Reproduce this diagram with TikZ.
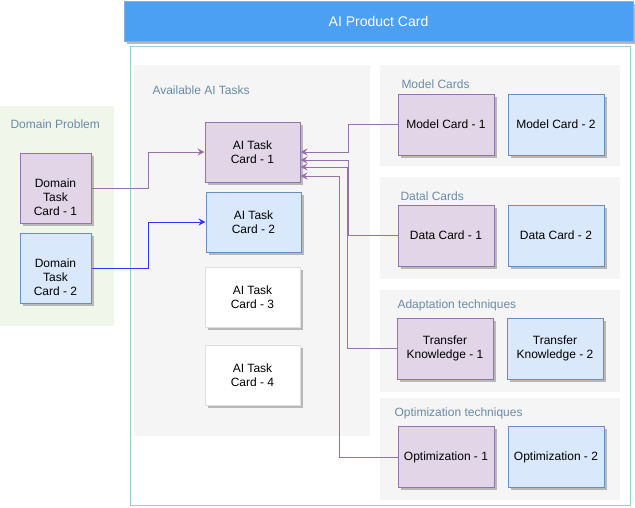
\documentclass[tikz,border=0pt]{standalone}
\usepackage{fontspec}
\setmainfont{Liberation Sans}
\usetikzlibrary{arrows.meta, positioning, shadows}

\definecolor{purplefill}{HTML}{E1D5E7}
\definecolor{purpleline}{HTML}{9673A6}
\definecolor{bluefill}{HTML}{DAE8FC}
\definecolor{blueline}{HTML}{6C8EBF}
\definecolor{titlefill}{HTML}{4CA0F3}
\definecolor{titleline}{HTML}{7EB0EC}
\definecolor{domainfill}{HTML}{F1F6EA}
\definecolor{groupfill}{HTML}{F5F5F5}
\definecolor{tealline}{HTML}{9ACFC6}
\definecolor{labeltext}{HTML}{6A8BA6}
\definecolor{linkblue}{HTML}{3333FF}

\begin{document}
\begin{tikzpicture}[
    x=1pt, y=-1pt,
    font=\fontsize{12}{14}\selectfont,
    line width=1pt,
    node distance=13pt,
    card/.style={draw, inner sep=0pt, align=center,
        minimum width=96pt, minimum height=61pt,
        drop shadow={shadow xshift=2.5pt, shadow yshift=-2.5pt,
            fill=black!28, opacity=1}},
    purplecard/.style={card, fill=purplefill, draw=purpleline},
    bluecard/.style={card, fill=bluefill, draw=blueline},
    whitecard/.style={card, fill=white, draw=black!12},
    aicard/.style={minimum width=95pt, minimum height=60pt},
    domaincard/.style={minimum width=71pt, minimum height=70pt},
    domaintext/.style={align=center, inner sep=0pt, yshift=-9pt},
    grouplabel/.style={text=labeltext, anchor=west, inner sep=0pt},
    link/.style={draw=purpleline, -{Stealth[length=7pt, width=7pt, inset=2.5pt]}},
]
    \useasboundingbox (0,0) rectangle (635,507);

    % title and frame
    \node[draw=titleline, fill=titlefill, text=white, font=\fontsize{14}{16}\selectfont,
          minimum width=509pt, minimum height=40pt, inner sep=0pt,
          drop shadow={shadow xshift=2.5pt, shadow yshift=-2.5pt, fill=black!28, opacity=1}]
          (title) at (378.5,21) {AI Product Card};
    \draw[tealline] (130,46) rectangle (630,505);

    % groups
    \fill[domainfill] (0,106) rectangle (114,326);
    \fill[groupfill] (134,65) rectangle (370,436);
    \fill[groupfill] (380,65) rectangle (620,166);
    \fill[groupfill] (380,177) rectangle (620,279);
    \fill[groupfill] (380,290) rectangle (620,392);
    \fill[groupfill] (380,398) rectangle (620,500);

    \node[grouplabel] (domainlbl) at (10,124) {Domain Problem};
    \node[grouplabel] (availlbl)  at (152,90) {Available AI Tasks};
    \node[grouplabel] (modellbl)  at (401,84) {Model Cards};
    \node[grouplabel] (datalbl)   at (400,196) {Datal Cards};
    \node[grouplabel] (adaptlbl)  at (397,305) {Adaptation techniques};
    \node[grouplabel] (optlbl)    at (394,413) {Optimization techniques};

    % domain task cards
    \node[purplecard, domaincard,
          label={[domaintext]center:Domain\\Task\\Card - 1}] (dt1) at (55.5,188) {};
    \node[bluecard, domaincard,
          label={[domaintext]center:Domain\\Task\\Card - 2}] (dt2) at (55.5,268) {};

    % AI task cards
    \node[purplecard, aicard] (ai1) at (252.5,152) {AI Task\\Card - 1};
    \node[bluecard,   aicard] (ai2) at (253.5,222) {AI Task\\Card - 2};
    \node[whitecard,  aicard] (ai3) at (252.5,297) {AI Task\\Card - 3};
    \node[whitecard,  aicard] (ai4) at (252.5,375) {AI Task\\Card - 4};

    % model, data, adaptation, optimization cards
    \node[purplecard] (mc1) at (446,124.5) {Model Card - 1};
    \node[bluecard, right=of mc1] (mc2) {Model Card - 2};
    \node[purplecard] (dc1) at (446,235.5) {Data Card - 1};
    \node[bluecard, right=of dc1] (dc2) {Data Card - 2};
    \node[purplecard] (tk1) at (445,348.5) {Transfer\\Knowledge - 1};
    \node[bluecard, right=of tk1] (tk2) {Transfer\\Knowledge - 2};
    \node[purplecard] (op1) at (446,457) {Optimization - 1};
    \node[bluecard, right=of op1] (op2) {Optimization - 2};

    % connectors
    \draw[link] (dt1.east) -- ++(57,0) |- (ai1.west);
    \draw[link, draw=linkblue] (dt2.east) -- ++(57,0) |- (ai2.west);
    \draw[link] (mc1.west) -- ++(-49,0) |- (ai1.east);
    \draw[link] (dc1.west) -- ++(-49,0) |- ([yshift=-8pt]ai1.east);
    \draw[link] (tk1.west) -- ++(-49,0) |- ([yshift=-15pt]ai1.east);
    \draw[link] (op1.west) -- ++(-58,0) |- ([yshift=-24pt]ai1.east);
\end{tikzpicture}
\end{document}
